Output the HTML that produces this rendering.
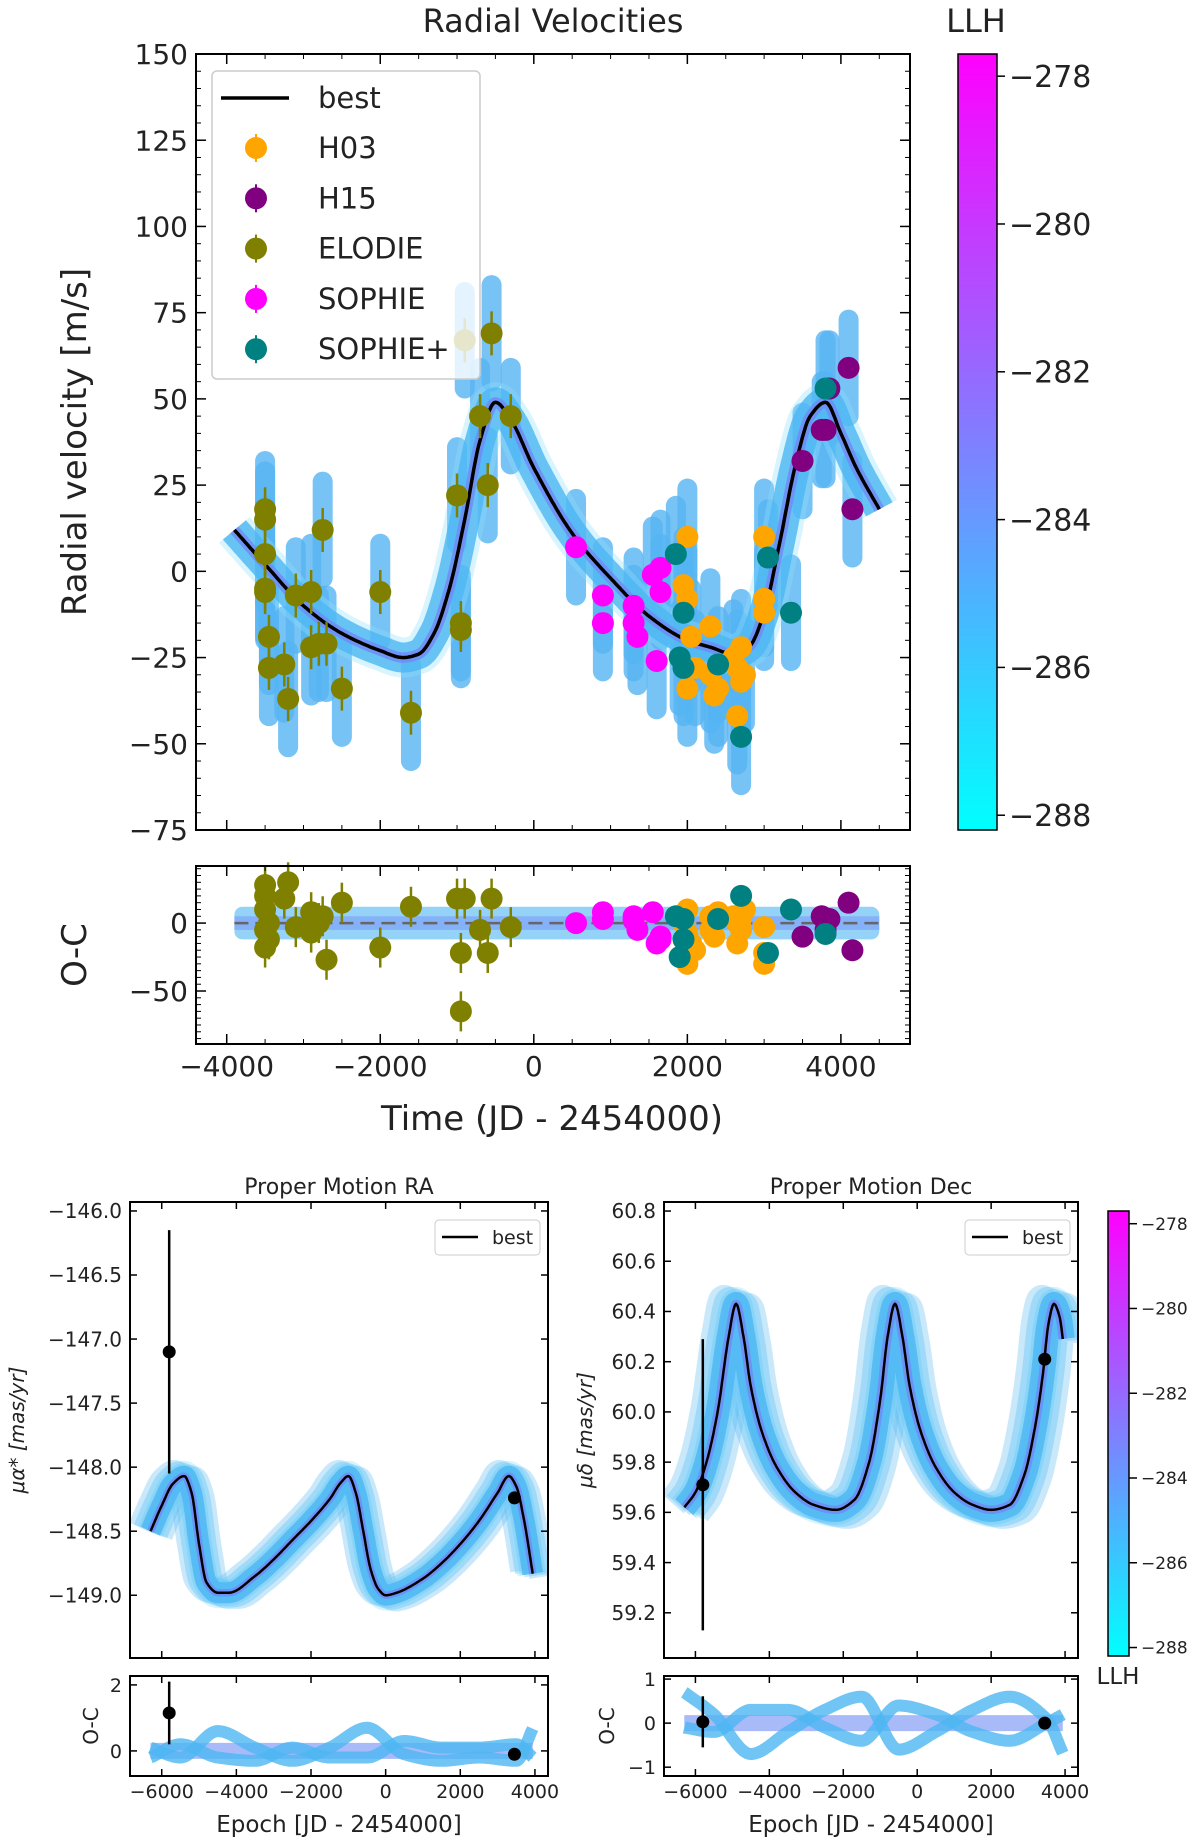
<!DOCTYPE html>
<html><head><meta charset="utf-8"><style>
html,body{margin:0;padding:0;background:#fff;}
svg{display:block;font-family:"DejaVu Sans","Liberation Sans",sans-serif;}
</style></head><body>
<svg id="fig" width="1200" height="1844" viewBox="0 0 1200 1844" xmlns="http://www.w3.org/2000/svg">
<defs>
<linearGradient id="cool" x1="0" y1="1" x2="0" y2="0"><stop offset="0" stop-color="#00ffff"/><stop offset="1" stop-color="#ff00ff"/></linearGradient>
</defs>
</svg>
<script>
// ---- RV data ----
const elodieT=[-3500,-3500,-3500,-3500,-3500,-3450,-3450,-3200,-3250,-3100,-2900,-2900,-2800,-2750,-2700,-2500,-2000,-1600,-1000,-950,-950,-900,-700,-600,-550,-300];
const elodieV=[18,15,5,-5,-6,-19,-28,-37,-27,-7,-6,-22,-21,12,-21,-34,-6,-41,22,-15,-17,67,45,25,69,45];
const elodieR=[28,20,10,-5,-18,-12,0,30,18,-3,8,-7,0,5,-27,15,-18,12,18,-22,-65,18,-5,-22,18,-3];
const h03T=[2000,1950,2000,2050,2000,2100,2300,2300,2350,2400,2600,2650,2700,2650,2750,3000,3000,3000,2700];
const h03V=[10,-4,-8,-19,-34,-28,-16,-30,-36,-34,-25,-28,-32,-42,-30,10,-8,-12,-22];
const h03R=[10,0,-8,-15,-30,-20,5,-5,-10,8,5,0,-5,-15,10,-3,-30,-22,3];
const h15T=[3500,3750,3800,3850,4100,4150];
const h15V=[32,41,41,53,59,18];
const h15R=[-10,5,-5,3,15,-20];
const sophieT=[550,900,900,1300,1300,1350,1600,1550,1650,1650];
const sophieV=[7,-7,-15,-10,-15,-19,-26,-1,1,-6];
const sophieR=[0,8,3,5,2,-5,-15,8,-12,-10];
const sophiepT=[1850,1950,1900,1950,2400,2700,3050,3350,3800];
const sophiepV=[5,-12,-25,-28,-27,-48,4,-12,53];
const sophiepR=[5,-12,-25,3,3,20,-22,10,-8];
const bestT=[-3900,-3500,-3000,-2500,-2000,-1700,-1500,-1300,-1100,-900,-700,-500,-300,0,500,1000,1500,2000,2300,2600,2800,3000,3200,3400,3600,3800,4000,4200,4500];
const bestV=[12,2,-10,-18,-23,-25,-24,-18,-5,15,38,49,44,30,11,-2,-13,-20,-22,-24,-22,-12,8,30,45,49,40,30,18];
// ---- proper motion ----
const raT=[-6300,-6000,-5700,-5400,-5200,-5000,-4800,-4500,-4200,-3500,-3000,-2500,-2000,-1500,-1200,-1000,-800,-600,-400,-200,0,300,1000,1500,2000,2500,3000,3300,3500,3700,3950];
const raV=[-148.5,-148.3,-148.13,-148.07,-148.2,-148.6,-148.9,-148.98,-148.98,-148.85,-148.72,-148.57,-148.42,-148.25,-148.12,-148.07,-148.2,-148.5,-148.8,-148.95,-149.0,-148.98,-148.87,-148.75,-148.6,-148.42,-148.2,-148.07,-148.15,-148.4,-148.85];
const raObsT=[-5800,3450], raObsV=[-147.1,-148.24], raObsE=[0.95,0.03];
const raOcV=[1.15,-0.1];
const decT=[-6300,-6000,-5700,-5400,-5100,-4900,-4700,-4500,-4200,-3800,-3300,-2800,-2200,-1700,-1300,-1000,-800,-600,-400,-200,100,500,1000,1500,2000,2500,2900,3200,3400,3550,3700,3850,3950];
const decV=[59.62,59.68,59.8,60.0,60.3,60.43,60.3,60.1,59.92,59.78,59.68,59.63,59.61,59.65,59.8,60.05,60.3,60.43,60.3,60.1,59.92,59.78,59.68,59.63,59.61,59.63,59.75,59.95,60.15,60.35,60.43,60.38,60.28];
const decObsT=[-5800,3450], decObsV=[59.71,60.21], decObsE=[0.58,0.02];
const decOcV=[0.03,0.0];
const ocT=[-6300,-5500,-4500,-3500,-2500,-1500,-500,500,1500,2500,3500,3950];
const raOcA=[0.1,-0.2,0.6,0.1,-0.3,0.1,0.7,-0.1,-0.3,-0.2,-0.3,0.7];
const raOcB=[-0.2,0.2,-0.2,-0.3,0.1,-0.2,-0.2,0.3,0.1,0.1,0.2,-0.2];
const decOcA=[0.7,0.2,-0.7,-0.2,0.3,0.6,-0.6,-0.2,0.3,0.6,0.1,-0.7];
const decOcB=[-0.1,-0.2,0.3,0.3,-0.1,-0.4,0.4,0.2,-0.2,-0.4,0.0,0.2];

const NS='http://www.w3.org/2000/svg';
const svg=document.getElementById('fig');
function el(tag,attrs,parent,text){const e=document.createElementNS(NS,tag);for(const k in attrs)e.setAttribute(k,attrs[k]);if(text!==undefined)e.textContent=text;(parent||svg).appendChild(e);return e;}
function mk(p){p.sx=v=>p.x0+(v-p.xd[0])/(p.xd[1]-p.xd[0])*(p.x1-p.x0);p.sy=v=>p.y1-(v-p.yd[0])/(p.yd[1]-p.yd[0])*(p.y1-p.y0);return p;}
// monotone cubic interpolation
function interp(T,V,t){const n=T.length;if(t<=T[0])return V[0];if(t>=T[n-1])return V[n-1];
  let i=1;while(T[i]<t)i++;const h=T[i]-T[i-1],s=(t-T[i-1])/h;
  const d=k=>(V[k+1]-V[k])/(T[k+1]-T[k]);
  const m=k=>{if(k===0)return d(0);if(k===n-1)return d(n-2);const a=d(k-1),b=d(k);if(a*b<=0)return 0;return 2/(1/a+1/b);};
  const m0=m(i-1)*h,m1=m(i)*h,s2=s*s,s3=s2*s;
  return (2*s3-3*s2+1)*V[i-1]+(s3-2*s2+s)*m0+(-2*s3+3*s2)*V[i]+(s3-s2)*m1;}
function pathFrom(p,T,V,off){let d='';for(let t=T[0];t<=T[T.length-1];t+=20){d+=(d?'L':'M')+p.sx(t).toFixed(1)+','+p.sy(interp(T,V,t)+(off||0)).toFixed(1);}return d;}
function frame(p,name){
  const g=el('g',{});
  
  
  el('rect',{x:p.x0,y:p.y0,width:p.x1-p.x0,height:p.y1-p.y0,fill:'none',stroke:'#000','stroke-width':p.lw||2},g);
  return g;}
function ticks(p,g,opt){
  const L=opt.L||10,Lm=opt.Lm||5,fs=opt.fs;
  if(opt.xmaj){for(let v=opt.xmaj[0];v<=opt.xmaj[1];v+=opt.xmaj[2]){const x=p.sx(v);el('line',{x1:x,x2:x,y1:p.y1,y2:p.y1-L,stroke:'#000','stroke-width':1.5},g);el('line',{x1:x,x2:x,y1:p.y0,y2:p.y0+L,stroke:'#000','stroke-width':1.5},g);
    if(opt.xlab){const t=el('text',{x:x,y:p.y1+fs*1.15,'font-size':fs,'text-anchor':'middle',fill:'#222'},g,String(v).replace('-','\u2212'));}}}
  if(opt.xmin){for(let v=opt.xmin[0];v<=opt.xmin[1];v+=opt.xmin[2]){const x=p.sx(v);if(x<p.x0||x>p.x1)continue;el('line',{x1:x,x2:x,y1:p.y1,y2:p.y1-Lm,stroke:'#000','stroke-width':1},g);el('line',{x1:x,x2:x,y1:p.y0,y2:p.y0+Lm,stroke:'#000','stroke-width':1},g);}}
  if(opt.ymaj){const dec=opt.ydec||0;for(let v=opt.ymaj[0];v<=opt.ymaj[1]+1e-9;v+=opt.ymaj[2]){const y=p.sy(v);el('line',{x1:p.x0,x2:p.x0+L,y1:y,y2:y,stroke:'#000','stroke-width':1.5},g);el('line',{x1:p.x1,x2:p.x1-L,y1:y,y2:y,stroke:'#000','stroke-width':1.5},g);
    if(opt.ylab!==false){const t=el('text',{x:p.x0-8,y:y+fs*0.36,'font-size':fs,'text-anchor':'end',fill:'#222'},g,v.toFixed(dec).replace('-','\u2212'));}}}
  if(opt.ymin){for(let v=opt.ymin[0];v<=opt.ymin[1]+1e-9;v+=opt.ymin[2]){const y=p.sy(v);if(y<p.y0||y>p.y1)continue;el('line',{x1:p.x0,x2:p.x0+Lm,y1:y,y2:y,stroke:'#000','stroke-width':1},g);el('line',{x1:p.x1,x2:p.x1-Lm,y1:y,y2:y,stroke:'#000','stroke-width':1},g);}}
}
function text(x,y,s,fs,name,extra){const t=el('text',Object.assign({x:x,y:y,'font-size':fs,'text-anchor':'middle',fill:'#222'},extra||{}),svg,s);return t;}
function clip(id,p){const c=el('clipPath',{id:id});el('rect',{x:p.x0,y:p.y0,width:p.x1-p.x0,height:p.y1-p.y0},c);}
function band(p,d,w,g){el('path',{d:d,fill:'none',stroke:'#8fe0fb','stroke-width':w+10,'stroke-opacity':0.35,'stroke-linejoin':'round'},g);
  el('path',{d:d,fill:'none',stroke:'#4cb6f2','stroke-width':w,'stroke-opacity':0.8,'stroke-linejoin':'round'},g);
  el('path',{d:d,fill:'none',stroke:'#7288f6','stroke-width':w*0.35,'stroke-opacity':0.8,'stroke-linejoin':'round'},g);}

// ===== RV panel =====
const rv=mk({x0:196,x1:910,y0:54,y1:830,xd:[-4400,4900],yd:[-75,150]});
const oc=mk({x0:196,x1:910,y0:866,y1:1044,xd:[-4400,4900],yd:[-89,42]});
clip('c1',rv);clip('c2',oc);
const sets=[[elodieT,elodieV,'#808000','elodie',elodieR],[h03T,h03V,'#ffa500','h03',h03R],[h15T,h15V,'#800080','h15',h15R],[sophieT,sophieV,'#ff00ff','sophie',sophieR],[sophiepT,sophiepV,'#008080','sophie-plus',sophiepR]];
const gb=el('g',{'clip-path':'url(#c1)'});
sets.forEach(s=>s[0].forEach((t,i)=>{const v=s[1][i];const x=rv.sx(t);el('line',{x1:x,x2:x,y1:rv.sy(v+14),y2:rv.sy(v-14),stroke:'#55b4f2','stroke-width':20,'stroke-linecap':'round','stroke-opacity':0.8},gb);}));
band(rv,pathFrom(rv,bestT,bestV),30,gb);
const gbest=el('path',{d:pathFrom(rv,bestT,bestV),fill:'none',stroke:'#000','stroke-width':3.5,'clip-path':'url(#c1)'});

sets.forEach(s=>{const g=el('g',{});
  s[0].forEach((t,i)=>{const x=rv.sx(t),y=rv.sy(s[1][i]);if(s[3]==='elodie')el('line',{x1:x,x2:x,y1:y-22,y2:y+22,stroke:s[2],'stroke-width':2.5},g);el('circle',{cx:x,cy:y,r:11,fill:s[2]},g);});});
// O-C
const gob=el('g',{'clip-path':'url(#c2)'});
el('rect',{x:oc.sx(-3900),y:oc.sy(12),width:oc.sx(4500)-oc.sx(-3900),height:oc.sy(-12)-oc.sy(12),fill:'#4cb6f2',opacity:0.6,rx:8},gob);
el('rect',{x:oc.sx(-3900),y:oc.sy(5),width:oc.sx(4500)-oc.sx(-3900),height:oc.sy(-5)-oc.sy(5),fill:'#7288f6',opacity:0.45},gob);
el('line',{x1:oc.sx(-3900),x2:oc.sx(4500),y1:oc.sy(0),y2:oc.sy(0),stroke:'#666','stroke-width':2.5,'stroke-dasharray':'14,7'},gob);
sets.forEach(s=>{const g=el('g',{});
  s[0].forEach((t,i)=>{const r=s[4][i];const x=oc.sx(t),y=oc.sy(r);if(s[3]==='elodie')el('line',{x1:x,x2:x,y1:y-20,y2:y+20,stroke:s[2],'stroke-width':2.5},g);el('circle',{cx:x,cy:y,r:11,fill:s[2]},g);});});
let g1=frame(rv,'rv');ticks(rv,g1,{fs:28,xmaj:[-4000,4000,2000],xmin:[-4000,4500,500],ymaj:[-75,150,25],ymin:[-75,150,5]});
let g2=frame(oc,'oc');ticks(oc,g2,{fs:28,xmaj:[-4000,4000,2000],xlab:true,xmin:[-4000,4500,500],ymaj:[-50,0,50],ymin:[-85,40,5]});
text(553,32,'Radial Velocities',32,'rv-title');
text(976,32,'LLH',32,'colorbar-title');
text(552,1130,'Time (JD - 2454000)',34,'x-axis-title');
text(86,442,'Radial velocity [m/s]',34,'rv-y-axis-title',{transform:'rotate(-90 86 442)'});
text(86,955,'O-C',34,'oc-y-axis-title',{transform:'rotate(-90 86 955)'});
// legend
const lg=el('g',{});
el('rect',{x:212,y:71,width:268,height:308,rx:5,fill:'#fff','fill-opacity':0.8,stroke:'#ccc','stroke-width':1.5},lg);
el('line',{x1:221,x2:289,y1:98,y2:98,stroke:'#000','stroke-width':3.5},lg);
el('text',{x:318,y:108,'font-size':29,fill:'#222'},lg,'best');
const labs=['H03','H15','ELODIE','SOPHIE','SOPHIE+'],lcol=['#ffa500','#800080','#808000','#ff00ff','#008080'];
labs.forEach((l,i)=>{const y=148+i*50.3;const e=el('g',{},lg);
  el('line',{x1:256,x2:256,y1:y-14,y2:y+14,stroke:lcol[i],'stroke-width':2},e);el('circle',{cx:256,cy:y,r:11,fill:lcol[i]},e);el('text',{x:318,y:y+10,'font-size':29,fill:'#222'},e,l);});
function colorbar(x0,x1,y0,y1,vlo,vhi,fs,name){const g=el('g',{});
  el('rect',{x:x0,y:y0,width:x1-x0,height:y1-y0,fill:'url(#cool)',stroke:'#000','stroke-width':1.5},g);
  [-288,-286,-284,-282,-280,-278].forEach(v=>{const y=y1-(v-vlo)/(vhi-vlo)*(y1-y0);el('line',{x1:x1,x2:x1+8,y1:y,y2:y,stroke:'#000','stroke-width':1.5},g);el('text',{x:x1+12,y:y+fs*0.36,'font-size':fs,fill:'#222'},g,String(v).replace('-','\u2212'));});}
colorbar(958,997,54,830,-288.2,-277.7,30,'llh-colorbar');

// ===== Proper motion =====
const ra=mk({x0:130,x1:548,y0:1202,y1:1658,xd:[-6850,4350],yd:[-149.49,-145.93]});
const raoc=mk({x0:130,x1:548,y0:1676,y1:1776,xd:[-6850,4350],yd:[-0.76,2.27]});
const dc=mk({x0:664,x1:1078,y0:1202,y1:1658,xd:[-6850,4350],yd:[59.02,60.836]});
const dcoc=mk({x0:664,x1:1078,y0:1676,y1:1776,xd:[-6850,4350],yd:[-1.2,1.07]});
clip('c3',ra);clip('c4',raoc);clip('c5',dc);clip('c6',dcoc);
function pmPanel(p,pc,T,V,oT,oV,oE,ocV,A,B,cid,cid2,name,bw,spread){
  const g=el('g',{'clip-path':'url(#'+cid+')'});
  [-spread,-spread*0.5,0,spread*0.5,spread].forEach(o=>{el('path',{d:pathFrom(p,T,V),fill:'none',stroke:'#4cb6f2','stroke-width':bw,'stroke-opacity':0.3,'stroke-linejoin':'round',transform:'translate('+(o*1.2)+','+(o*0.4)+')'},g);});
  band(p,pathFrom(p,T,V),bw*0.8,g);
  const b=el('path',{d:pathFrom(p,T,V),fill:'none',stroke:'#000','stroke-width':2.5,'clip-path':'url(#'+cid+')'});
  oT.forEach((t,i)=>{const x=p.sx(t);const q=el('g',{});
    el('line',{x1:x,x2:x,y1:p.sy(oV[i]+oE[i]),y2:p.sy(oV[i]-oE[i]),stroke:'#000','stroke-width':2.5},q);el('circle',{cx:x,cy:p.sy(oV[i]),r:6.5,fill:'#000'},q);});
  const g2=el('g',{'clip-path':'url(#'+cid2+')'});
  el('path',{d:pathFrom(pc,ocT,ocT.map(()=>0)),fill:'none',stroke:'#6f8cf5','stroke-width':16,'stroke-opacity':0.6},g2);
  el('path',{d:pathFrom(pc,ocT,A),fill:'none',stroke:'#4cb6f2','stroke-width':12,'stroke-opacity':0.8},g2);
  el('path',{d:pathFrom(pc,ocT,B),fill:'none',stroke:'#4cb6f2','stroke-width':12,'stroke-opacity':0.8},g2);
  oT.forEach((t,i)=>{const x=pc.sx(t);const q=el('g',{});
    el('line',{x1:x,x2:x,y1:pc.sy(ocV[i]+oE[i]),y2:pc.sy(ocV[i]-oE[i]),stroke:'#000','stroke-width':2.5},q);el('circle',{cx:x,cy:pc.sy(ocV[i]),r:6.5,fill:'#000'},q);});
}
pmPanel(ra,raoc,raT,raV,raObsT,raObsV,raObsE,raOcV,raOcA,raOcB,'c3','c4','pm-ra',26,8);
pmPanel(dc,dcoc,decT,decV,decObsT,decObsV,decObsE,decOcV,decOcA,decOcB,'c5','c6','pm-dec',30,10);
let g3=frame(ra,'pm-ra');ticks(ra,g3,{fs:20,L:7,Lm:0,xmaj:[-6000,4000,2000],ymaj:[-149,-146,0.5],ydec:1});
let g4=frame(raoc,'pm-ra-oc');ticks(raoc,g4,{fs:19,L:7,xmaj:[-6000,4000,2000],xlab:true,ymaj:[0,2,2]});
let g5=frame(dc,'pm-dec');ticks(dc,g5,{fs:20,L:7,xmaj:[-6000,4000,2000],ymaj:[59.2,60.8,0.2],ydec:1});
let g6=frame(dcoc,'pm-dec-oc');ticks(dcoc,g6,{fs:19,L:7,xmaj:[-6000,4000,2000],xlab:true,ymaj:[-1,1,1]});
text(339,1194,'Proper Motion RA',22,'pm-ra-title');
text(871,1194,'Proper Motion Dec',22,'pm-dec-title');
text(339,1832,'Epoch [JD - 2454000]',23,'pm-ra-x-axis-title');
text(871,1832,'Epoch [JD - 2454000]',23,'pm-dec-x-axis-title');
text(24,1430,'\u03bc\u03b1* [mas/yr]',20,'pm-ra-y-axis-title',{transform:'rotate(-90 24 1430)','font-style':'italic'});
text(592,1430,'\u03bc\u03b4 [mas/yr]',20,'pm-dec-y-axis-title',{transform:'rotate(-90 592 1430)','font-style':'italic'});
text(98,1726,'O-C',20,'pm-ra-oc-label',{transform:'rotate(-90 98 1726)'});
text(614,1726,'O-C',20,'pm-dec-oc-label',{transform:'rotate(-90 614 1726)'});
[[ra,'pm-ra-legend'],[dc,'pm-dec-legend']].forEach(([p,n])=>{const g=el('g',{});
  el('rect',{x:p.x1-113,y:1220,width:105,height:35,rx:4,fill:'#fff',stroke:'#ccc'},g);
  el('line',{x1:p.x1-106,x2:p.x1-70,y1:1237,y2:1237,stroke:'#000','stroke-width':2.5},g);
  el('text',{x:p.x1-56,y:1244,'font-size':19,fill:'#222'},g,'best');});
colorbar(1108,1129,1211,1656,-288.2,-277.7,17,'llh-colorbar-2');
text(1118,1684,'LLH',23,'colorbar-2-title');
</script>
</body></html>
